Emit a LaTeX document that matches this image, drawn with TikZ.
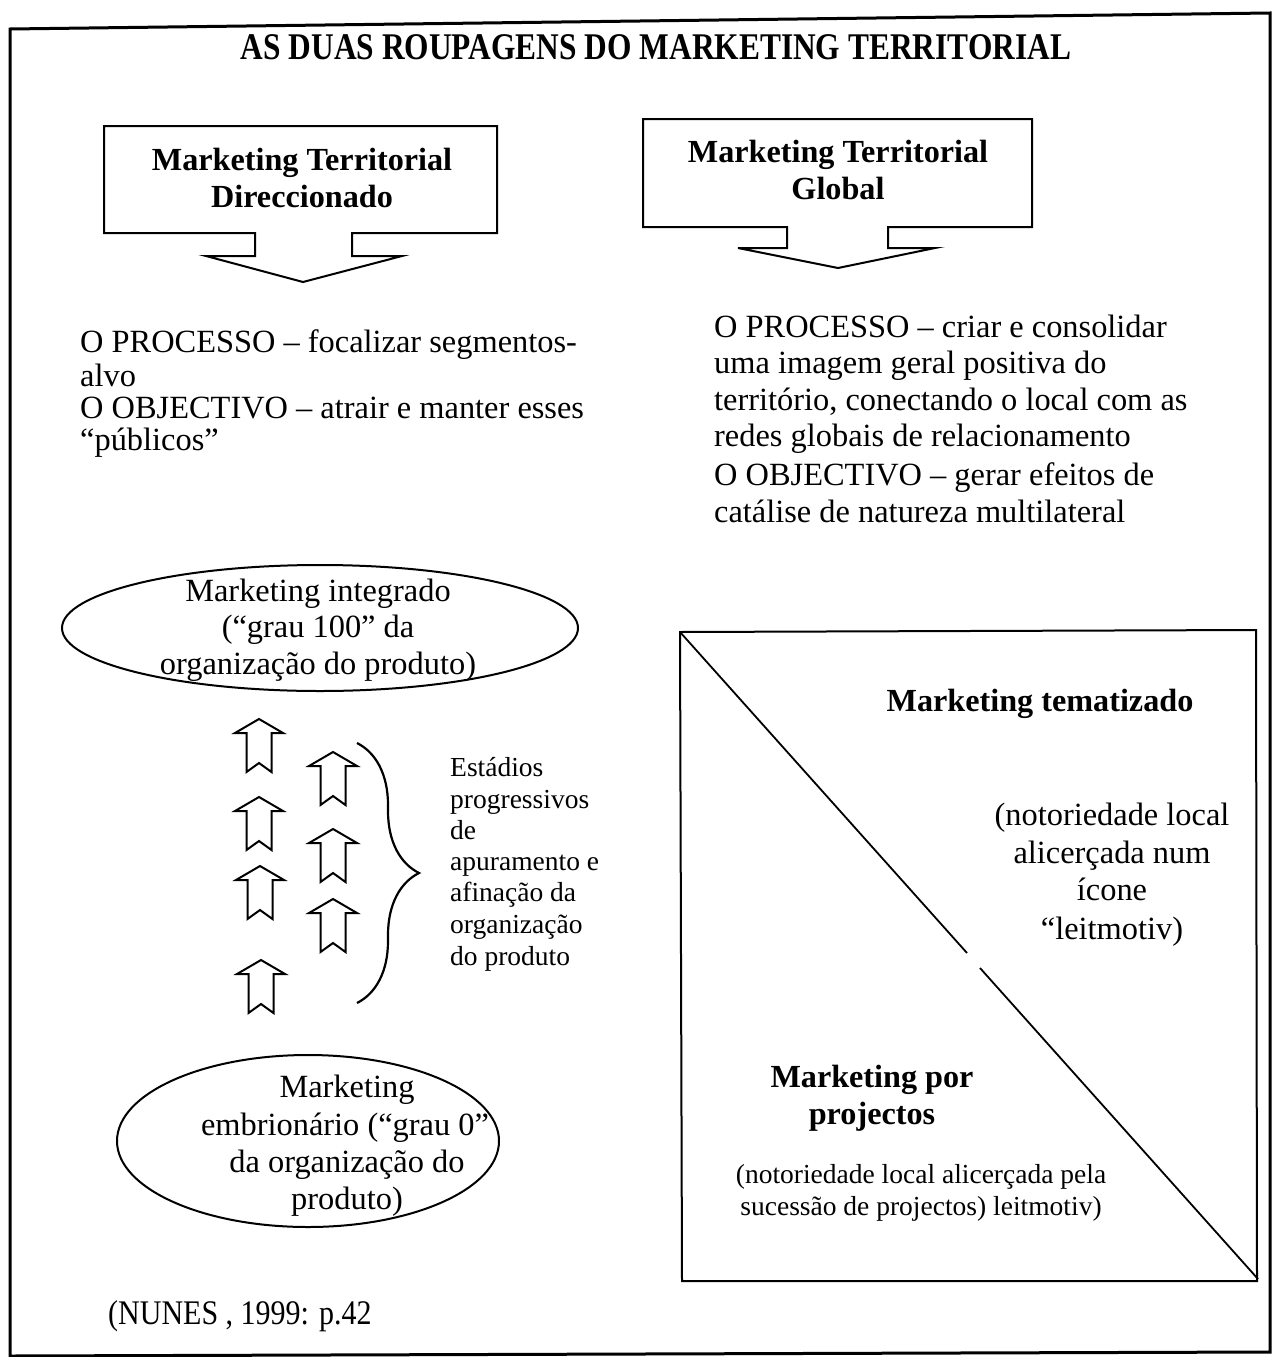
\documentclass[tikz,border=0pt]{standalone}
\usepackage{fontspec}
\usepackage{graphicx}
\setmainfont{Liberation Serif}
\usetikzlibrary{decorations.pathreplacing}
\begin{document}
\begin{tikzpicture}[x=1pt,y=-1pt,
  txt/.style={inner sep=0pt, font=\fontsize{32.4}{36}\selectfont},
  btxt/.style={inner sep=0pt, font=\fontsize{32.2}{36}\selectfont\bfseries},
  stxt/.style={inner sep=0pt, font=\fontsize{27.5}{31}\selectfont},
  ttl/.style={inner sep=0pt, font=\fontsize{31.4}{36}\selectfont\bfseries},
  cite/.style={inner sep=0pt, font=\fontsize{30}{34}\selectfont},
  outline/.style={draw=black, line width=2pt},
  frame/.style={draw=black, line width=3pt},
  uparrow/.pic={\draw[line width=2pt, line join=miter]
     (0,0) -- (24,14) -- (12.5,14) -- (12.5,53) -- (0,44) -- (-12.5,53)
     -- (-12.5,14) -- (-24,14) -- cycle;}
]
\useasboundingbox (0,0) rectangle (1273,1357);
% outer frame
\draw[frame] (10,29) -- (1270,13) -- (1270,1352) -- (10,1356) -- cycle;
% title
\node[ttl, anchor=base] (title) at (656,59) {\scalebox{1}[1.2]{AS DUAS ROUPAGENS DO MARKETING TERRITORIAL}};

% left callout
\draw[outline, line join=miter] (104,126) -- (497,126) -- (497,233) -- (352,233) -- (352,256)
  -- (402,256) -- (303,282) -- (206,256) -- (255,256) -- (255,233) -- (104,233) -- cycle;
\node[btxt, anchor=base] (lc1) at (302,170) {Marketing Territorial};
\node[btxt, anchor=base] (lc2) at (302,207) {Direccionado};

% right callout
\draw[outline, line join=miter] (643,119) -- (1032,119) -- (1032,227) -- (888,227) -- (888,248)
  -- (935,248) -- (838,268) -- (738,248) -- (787,248) -- (787,227) -- (643,227) -- cycle;
\node[btxt, anchor=base] (rc1) at (838,162) {Marketing Territorial};
\node[btxt, anchor=base] (rc2) at (838,199) {Global};

% left text block
\node[txt, anchor=base west] (lt1) at (80,352) {O PROCESSO – focalizar segmentos-};
\node[txt, anchor=base west] (lt2) at (80,386) {alvo};
\node[txt, anchor=base west] (lt3) at (80,418) {O OBJECTIVO – atrair e manter esses};
\node[txt, anchor=base west] (lt4) at (80,450) {“públicos”};

% right text block
\node[txt, anchor=base west] (rt1) at (714,337) {O PROCESSO – criar e consolidar};
\node[txt, anchor=base west] (rt2) at (714,373) {uma imagem geral positiva do};
\node[txt, anchor=base west] (rt3) at (714,410) {território, conectando o local com as};
\node[txt, anchor=base west] (rt4) at (714,446) {redes globais de relacionamento};
\node[txt, anchor=base west] (rt5) at (714,485) {O OBJECTIVO – gerar efeitos de};
\node[txt, anchor=base west] (rt6) at (714,522) {catálise de natureza multilateral};

% top ellipse
\draw[outline] (320,628) ellipse [x radius=258, y radius=63];
\node[txt, anchor=base] (te1) at (318,601) {Marketing integrado};
\node[txt, anchor=base] (te2) at (318,637) {(“grau 100” da};
\node[txt, anchor=base] (te3) at (318,674) {organização do produto)};

% bottom ellipse
\draw[outline] (308,1141) ellipse [x radius=191, y radius=86];
\node[txt, anchor=base] (be1) at (347,1097) {Marketing};
\node[txt, anchor=base] (be2) at (345,1135) {embrionário (“grau 0”};
\node[txt, anchor=base] (be3) at (347,1172) {da organização do};
\node[txt, anchor=base] (be4) at (347,1209) {produto)};

% up arrows
\pic at (259,719) {uparrow};
\pic at (259,797) {uparrow};
\pic at (260,866) {uparrow};
\pic at (261,960) {uparrow};
\pic at (333,752) {uparrow};
\pic at (333,829) {uparrow};
\pic at (333,899) {uparrow};

% brace
\coordinate (bt) at (357,743);
\coordinate (bb) at (357,1003);
\draw[line width=2.2pt, decorate, decoration={brace, amplitude=62pt}] (bt) -- (bb);

% brace text
\node[stxt, anchor=base west] (bx1) at (450,776) {Estádios};
\node[stxt, anchor=base west] (bx2) at (450,808) {progressivos};
\node[stxt, anchor=base west] (bx3) at (450,839) {de};
\node[stxt, anchor=base west] (bx4) at (450,870) {apuramento e};
\node[stxt, anchor=base west] (bx5) at (450,901) {afinação da};
\node[stxt, anchor=base west] (bx6) at (450,933) {organização};
\node[stxt, anchor=base west] (bx7) at (450,965) {do produto};

% square with diagonal
\draw[outline] (680,632) -- (1256,630) -- (1257,1281) -- (682,1281) -- cycle;
\coordinate (dtl) at (680,632);
\coordinate (dbr) at (1258,1279);
\coordinate (g1) at (967,953);
\coordinate (g2) at (980,968);
\draw[line width=1.8pt] (dtl) -- (g1);
\draw[line width=1.8pt] (g2) -- (dbr);

\node[btxt, anchor=base] (sq1) at (1040,711) {Marketing tematizado};
\node[txt, anchor=base] (sq2) at (1112,825) {(notoriedade local};
\node[txt, anchor=base] (sq3) at (1112,863) {alicerçada num};
\node[txt, anchor=base] (sq4) at (1112,900) {ícone};
\node[txt, anchor=base] (sq5) at (1112,939) {“leitmotiv)};
\node[btxt, anchor=base] (sq6) at (872,1087) {Marketing por};
\node[btxt, anchor=base] (sq7) at (872,1124) {projectos};
\node[stxt, anchor=base] (sq8) at (921,1183) {(notoriedade local alicerçada pela};
\node[stxt, anchor=base] (sq9) at (921,1215) {sucessão de projectos) leitmotiv)};

% citation
\node[cite, anchor=base west] (cite) at (108,1324) {\scalebox{1}[1.15]{(NUNES , 1999: p.42}};
\end{tikzpicture}
\end{document}
